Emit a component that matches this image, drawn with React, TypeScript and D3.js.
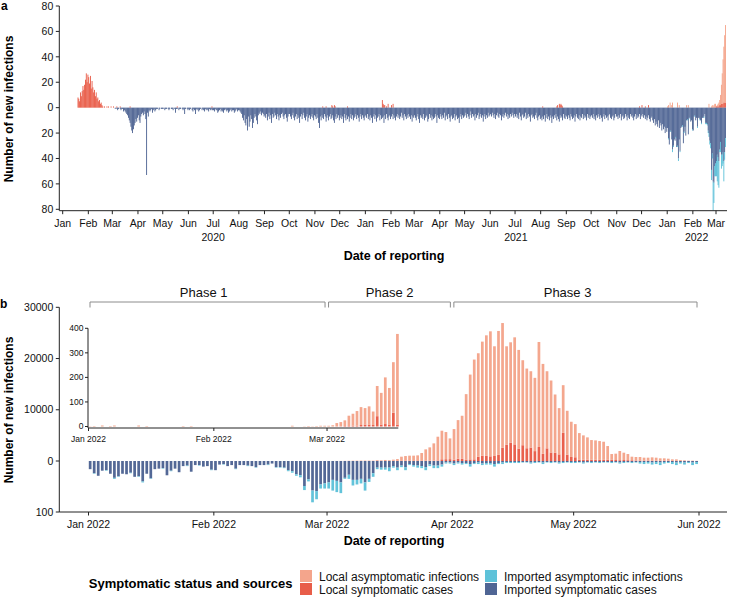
import React from "react";
import * as d3 from "d3";

const FONT = "'Liberation Sans', Arial, Helvetica, sans-serif";
const C_LOCAL_ASYM = "#F39B7F";
const C_LOCAL_SYM = "#E64B35";
const C_IMP_ASYM = "#4DBBD5";
const C_IMP_SYM = "#3C5488";
const AXIS = "#222";

// ---------- panel a: daily counts 2020-2021 ----------
const localEarly2020Start = "2020-01-19";
const localEarly2020 = [
  8, 7, 5, 12, 9, 13, 17, 14, 18, 22, 27, 20, 26,
  24, 19, 25, 15, 21, 16, 12, 14, 9, 12, 7, 8, 5, 6, 3, 4, 2,
  1, 0, 1, 0, 0, 1, 0, 1, 0, 0, 1, 0,
];
const localSporadic: [string, number][] = [
  ["2020-03-02", 1], ["2020-03-06", 1], ["2020-03-10", 1], ["2020-03-22", 1],
  ["2020-05-18", 1], ["2020-06-29", 1], ["2020-11-10", 1], ["2020-11-14", 1],
  ["2020-11-21", 2], ["2020-11-22", 1], ["2020-11-24", 2], ["2020-11-25", 1],
  ["2020-12-10", 1], ["2021-01-21", 6], ["2021-01-22", 3], ["2021-01-23", 2],
  ["2021-01-24", 2], ["2021-01-26", 1], ["2021-01-28", 3], ["2021-02-01", 2],
  ["2021-02-03", 3], ["2021-08-03", 1], ["2021-08-20", 1], ["2021-08-21", 2],
  ["2021-08-23", 3], ["2021-08-24", 2], ["2021-08-25", 3], ["2021-08-26", 2],
  ["2021-08-27", 1], ["2021-11-28", 1], ["2021-12-01", 2], ["2021-12-05", 1],
  ["2021-12-09", 2],
];

const imported2020Start = "2020-03-01";
const imported2020 = [
  [0, 0, 0, 1, 0, 1, 2, 1, 0, 1, 2, 1, 1, 3, 2, 3, 4, 5, 6, 8, 10, 12, 15, 18, 20, 17, 14, 12, 9, 11, 8],
  [6, 10, 12, 7, 5, 4, 6, 3, 5, 9, 53, 4, 7, 2, 3, 2, 1, 4, 2, 1, 3, 2, 1, 1, 0, 2, 1, 0, 1, 1],
  [1, 0, 2, 1, 1, 0, 1, 2, 1, 0, 1, 1, 2, 0, 1, 4, 1, 1, 0, 2, 1, 1, 0, 1, 2, 1, 5, 1, 0, 1, 2],
  [1, 2, 1, 0, 2, 3, 1, 2, 5, 1, 2, 1, 3, 2, 1, 0, 2, 1, 2, 3, 1, 2, 1, 2, 3, 1, 2, 1, 2, 2],
  [2, 3, 1, 2, 2, 4, 3, 2, 1, 3, 2, 3, 4, 2, 1, 2, 3, 2, 4, 3, 2, 1, 3, 2, 2, 4, 3, 2, 1, 3, 2],
  [2, 3, 4, 5, 8, 10, 6, 12, 14, 9, 18, 7, 15, 11, 6, 9, 16, 12, 8, 5, 7, 10, 13, 6, 4, 5, 3, 6, 4, 5, 7],
  [6, 8, 5, 10, 7, 4, 9, 6, 12, 5, 8, 7, 4, 6, 9, 5, 7, 10, 6, 8, 5, 4, 7, 9, 6, 5, 8, 11, 7, 5],
  [5, 7, 9, 6, 4, 8, 10, 7, 5, 9, 6, 8, 12, 7, 5, 9, 6, 4, 8, 10, 7, 5, 11, 8, 6, 9, 7, 5, 8, 10, 6],
  [7, 9, 5, 8, 12, 16, 7, 10, 6, 8, 9, 5, 7, 11, 8, 6, 10, 7, 5, 9, 8, 6, 10, 12, 7, 9, 5, 8, 6, 10],
  [8, 6, 9, 7, 12, 5, 8, 10, 6, 9, 7, 11, 8, 5, 9, 6, 10, 8, 7, 5, 9, 6, 8, 11, 7, 5, 9, 6, 8, 10, 7],
];

const imported2021Start = "2021-01-01";
const imported2021 = [
  [6, 8, 5, 9, 7, 10, 6, 8, 12, 7, 5, 9, 6, 11, 8, 7, 5, 10, 6, 9, 8, 7, 12, 6, 9, 5, 8, 10, 7, 6, 9],
  [7, 5, 9, 6, 8, 10, 7, 5, 8, 6, 9, 7, 4, 8, 6, 10, 5, 7, 9, 6, 8, 5, 7, 9, 6, 11, 7, 8],
  [6, 8, 10, 7, 5, 9, 12, 6, 8, 7, 9, 5, 10, 8, 6, 7, 11, 9, 5, 8, 6, 10, 7, 9, 8, 5, 7, 12, 6, 8, 9],
  [5, 7, 9, 6, 8, 4, 10, 7, 6, 9, 5, 8, 11, 7, 6, 9, 8, 5, 10, 7, 6, 9, 8, 12, 7, 5, 9, 6, 8, 7],
  [6, 4, 8, 5, 7, 9, 6, 3, 8, 5, 7, 6, 10, 5, 8, 6, 4, 9, 7, 5, 8, 6, 11, 7, 5, 9, 6, 8, 4, 7, 6],
  [5, 7, 4, 6, 8, 5, 9, 6, 4, 7, 8, 5, 6, 10, 7, 5, 8, 6, 4, 7, 5, 9, 6, 8, 5, 7, 4, 6, 8, 5],
  [7, 5, 8, 6, 9, 4, 7, 10, 6, 5, 8, 7, 4, 9, 6, 8, 5, 7, 11, 6, 5, 8, 7, 9, 6, 4, 8, 10, 7, 6, 9],
  [8, 10, 7, 9, 6, 11, 8, 5, 9, 7, 10, 6, 8, 12, 7, 9, 6, 8, 5, 10, 7, 9, 11, 6, 8, 7, 10, 5, 8, 9, 6],
  [7, 9, 6, 8, 10, 5, 7, 9, 8, 6, 11, 7, 5, 8, 9, 6, 10, 7, 8, 5, 9, 6, 8, 7, 10, 5, 8, 6, 9, 7],
  [6, 8, 5, 9, 7, 10, 6, 8, 5, 7, 9, 6, 8, 11, 7, 5, 9, 6, 8, 7, 10, 6, 5, 8, 9, 7, 6, 10, 8, 5, 7],
  [7, 9, 6, 8, 5, 10, 7, 6, 9, 8, 5, 7, 10, 6, 8, 9, 5, 7, 6, 8, 10, 7, 5, 9, 6, 8, 7, 5, 9, 6],
  [7, 5, 8, 6, 9, 7, 10, 8, 6, 9, 11, 8, 7, 10, 12, 9, 14, 11, 13, 15, 10, 16, 12, 14, 18, 13, 17, 15, 20, 16, 19],
];

// panel a, local infections 1-12 March 2022
const localAsymMar2022A = [0, 1, 2, 3, 4, 8, 15, 24, 35, 44, 53, 61];
const localSymMar2022A = [1, 1, 1, 1, 2, 2, 3, 3, 3, 4, 4, 4];

// ---------- panel b: daily counts Jan-May 2022 ----------
const localAsym2022 = [
  [1, 2, 0, 4, 0, 2, 4, 0, 0, 0, 0, 0, 4, 0, 2, 0, 0, 0, 0, 0, 0, 0, 0, 2, 0, 2, 0, 0, 0, 0, 0],
  [0, 0, 0, 0, 0, 0, 0, 0, 0, 0, 0, 0, 0, 0, 0, 0, 0, 0, 0, 3, 0, 0, 1, 2, 1, 2, 3, 3],
  [3, 5, 13, 17, 23, 42, 49, 60, 73, 67, 74, 55, 123, 129, 190, 149, 206, 369,
    820, 945, 1010, 1035, 1095, 1530, 2230, 2615, 3390, 4640, 5580, 5300, 4050],
  [5970, 7540, 8410, 12780, 16560, 19480, 20210, 22290, 23530, 24400, 21400, 24190, 24360, 19190, 19580,
    20900, 19260, 16590, 15550, 14890, 14300, 20490, 17550, 15050, 14050, 11370, 9030, 9310, 8550, 6870],
  [6470, 5180, 4740, 4350, 3840, 3770, 3670, 3530, 2700, 1130, 1230, 1790, 1430, 1200, 700, 680,
    690, 570, 570, 650, 600, 480, 470, 410, 290, 300, 170, 120, 55, 60, 25],
];
const localSym2022 = [
  [0, 0, 0, 0, 0, 0, 0, 0, 0, 0, 0, 0, 0, 0, 0, 0, 0, 0, 0, 0, 0, 0, 0, 0, 0, 0, 0, 0, 0, 0, 0],
  [0, 0, 0, 0, 0, 0, 0, 0, 0, 0, 0, 0, 0, 0, 0, 0, 0, 0, 0, 0, 0, 0, 0, 0, 0, 0, 0, 0],
  [0, 0, 1, 1, 2, 2, 3, 3, 6, 8, 8, 6, 42, 8, 10, 8, 56, 8,
    20, 25, 30, 5, 5, 30, 40, 45, 50, 100, 330, 350, 360],
  [260, 440, 420, 270, 310, 320, 820, 1010, 1000, 910, 990, 1190, 2570, 3200, 3590,
    3240, 2420, 3080, 2490, 2630, 1930, 2740, 1400, 2470, 1660, 1610, 1290, 5490, 1250, 790],
  [730, 270, 260, 260, 250, 250, 220, 230, 220, 230, 200, 160, 190, 160, 140, 100,
    90, 80, 80, 60, 50, 40, 50, 40, 30, 20, 20, 10, 10, 5, 5],
];
const importedSym2022 = [
  [16, 24, 29, 19, 18, 25, 33, 30, 25, 26, 23, 31, 30, 40, 25, 34, 16, 15, 14, 28, 19, 15, 22, 10, 9, 21, 8, 8, 11, 10, 17],
  [18, 7, 6, 10, 8, 15, 8, 8, 9, 10, 12, 8, 8, 7, 5, 12, 12, 13, 18, 20, 26, 28, 49, 36, 58, 59, 46, 44],
  [42, 37, 39, 42, 33, 27, 37, 37, 35, 42, 35, 24, 13, 13, 13, 13, 10, 13, 9, 12, 6, 8, 9, 10, 12, 7, 9, 9, 7, 3, 3],
  [5, 3, 4, 4, 6, 4, 3, 5, 4, 4, 6, 4, 3, 2, 2, 2, 2, 2, 2, 3, 2, 2, 3, 2, 2, 2, 3, 2, 2, 2],
  [2, 2, 3, 2, 2, 2, 2, 2, 2, 2, 2, 3, 2, 2, 2, 2, 2, 2, 2, 3, 2, 3, 2, 2, 2, 3, 2, 3, 2, 3, 2],
];
const importedAsym2022 = [
  [0, 1, 0, 0, 1, 0, 2, 1, 0, 0, 1, 0, 1, 2, 0, 1, 0, 0, 1, 0, 1, 0, 0, 0, 1, 0, 0, 1, 0, 0, 1],
  [0, 0, 1, 0, 0, 1, 0, 0, 1, 0, 1, 0, 0, 1, 0, 1, 1, 1, 2, 3, 3, 4, 8, 4, 23, 16, 8, 10],
  [12, 21, 22, 21, 2, 8, 11, 9, 9, 16, 6, 7, 3, 4, 4, 7, 3, 5, 3, 6, 2, 3, 4, 4, 6, 3, 5, 5, 4, 2, 2],
  [3, 2, 3, 2, 5, 2, 3, 3, 3, 3, 5, 2, 3, 2, 2, 2, 2, 1, 1, 2, 2, 1, 3, 1, 2, 1, 2, 2, 1, 2],
  [2, 1, 2, 1, 2, 1, 2, 1, 1, 2, 1, 2, 2, 1, 2, 1, 3, 4, 3, 4, 4, 5, 3, 2, 4, 5, 3, 4, 2, 5, 4],
];

const phases = [
  { label: "Phase 1", start: "2022-01-01", end: "2022-03-01", labelAt: "2022-01-29" },
  { label: "Phase 2", start: "2022-03-01", end: "2022-04-01", labelAt: "2022-03-16" },
  { label: "Phase 3", start: "2022-04-01", end: "2022-06-01", labelAt: "2022-04-29" },
];

const legendItems = [
  { label: "Local asymptomatic infections", color: C_LOCAL_ASYM, col: 0, row: 0 },
  { label: "Local symptomatic cases", color: C_LOCAL_SYM, col: 0, row: 1 },
  { label: "Imported asymptomatic infections", color: C_IMP_ASYM, col: 1, row: 0 },
  { label: "Imported symptomatic cases", color: C_IMP_SYM, col: 1, row: 1 },
];

const DAY = 864e5;
const utc = (s: string) => new Date(s + "T00:00:00Z");

// ---------- assemble series ----------
const bLocalAsym = localAsym2022.flat();
const bLocalSym = localSym2022.flat();
const bImpSym = importedSym2022.flat();
const bImpAsym = importedAsym2022.flat();
const bStart = utc("2022-01-01");
const bDays = bLocalAsym.map((_, i) => new Date(+bStart + i * DAY));

const aStart = utc("2020-01-01");
const aLast = utc("2022-03-12");
const nA = Math.round((+aLast - +aStart) / DAY) + 1;
const idxA = (s: string) => Math.round((+utc(s) - +aStart) / DAY);
const aLocalSym = new Array(nA).fill(0);
const aLocalAsym = new Array(nA).fill(0);
const aImpSym = new Array(nA).fill(0);
const aImpAsym = new Array(nA).fill(0);
localEarly2020.forEach((v, i) => (aLocalSym[idxA(localEarly2020Start) + i] = v));
localSporadic.forEach(([d, v]) => (aLocalSym[idxA(d)] = v));
imported2020.flat().forEach((v, i) => (aImpSym[idxA(imported2020Start) + i] = v));
imported2021.flat().forEach((v, i) => (aImpSym[idxA(imported2021Start) + i] = v));
const off2022 = idxA("2022-01-01");
for (let i = 0; off2022 + i < nA; i++) {
  aImpSym[off2022 + i] = bImpSym[i];
  aImpAsym[off2022 + i] = bImpAsym[i];
  if (i < 59) {
    aLocalSym[off2022 + i] = bLocalSym[i];
    aLocalAsym[off2022 + i] = bLocalAsym[i];
  } else {
    aLocalSym[off2022 + i] = localSymMar2022A[i - 59];
    aLocalAsym[off2022 + i] = localAsymMar2022A[i - 59];
  }
}

export default function App() {
  // panel a scales
  const xA = d3.scaleUtc().domain([utc("2020-01-01"), utc("2022-03-01")]).range([62.7, 716]);
  const yA = d3.scaleLinear().domain([-80, 80]).range([209.3, 6]);
  const axA = { left: 59.3, right: 727, bottom: 210.7 };
  const monthsA = d3.utcMonth.range(utc("2020-01-01"), utc("2022-03-02"));
  const yearsA = [
    { label: "2020", x: xA(utc("2020-07-01")) },
    { label: "2021", x: xA(utc("2021-07-02")) },
    { label: "2022", x: (xA(utc("2022-01-01")) + xA(utc("2022-03-13"))) / 2 },
  ];

  // panel b scales
  const xB = d3.scaleUtc().domain([utc("2022-01-01"), utc("2022-06-01")]).range([88.5, 699]);
  const yPos = d3.scaleLinear().domain([0, 30000]).range([461, 307.3]);
  const yNeg = d3.scaleLinear().domain([0, 100]).range([461, 512]);
  const yIn = d3.scaleLinear().domain([0, 400]).range([426.5, 328.3]);
  const axB = { left: 59.3, right: 727, bottom: 512 };
  const monthsB = d3.utcMonth.range(utc("2022-01-01"), utc("2022-06-02"));
  const insetEnd = utc("2022-03-19");
  const inset = { left: 88, right: xB(insetEnd) - 1.5, bottom: 428 };
  const bw = 2.7;
  const fmtB = d3.utcFormat("%b %Y");

  const aBars: JSX.Element[] = [];
  for (let i = 0; i < nA; i++) {
    const t = new Date(+aStart + i * DAY);
    const x0 = xA(t);
    const w = xA(new Date(+t + DAY)) - x0;
    const ls = aLocalSym[i], la = aLocalAsym[i], is = aImpSym[i], ia = aImpAsym[i];
    if (ls > 0) aBars.push(<rect key={`ls${i}`} x={x0} width={w} y={yA(ls)} height={yA(0) - yA(ls)} fill={C_LOCAL_SYM} />);
    if (la > 0) aBars.push(<rect key={`la${i}`} x={x0} width={w} y={yA(ls + la)} height={yA(ls) - yA(ls + la)} fill={C_LOCAL_ASYM} />);
    if (is > 0) aBars.push(<rect key={`is${i}`} x={x0} width={w} y={yA(0)} height={yA(-is) - yA(0)} fill={C_IMP_SYM} />);
    if (ia > 0) aBars.push(<rect key={`ia${i}`} x={x0} width={w} y={yA(-is)} height={yA(-is - ia) - yA(-is)} fill={C_IMP_ASYM} />);
  }

  return (
    <svg width={729} height={604} style={{ position: "absolute", left: 0, top: 0 }} fontFamily={FONT}>
      <rect width={729} height={604} fill="#fff" />

      {/* ---------------- panel a ---------------- */}
      <text x={1} y={9.5} fontSize={12} fontWeight="bold">a</text>
      <g>{aBars}</g>
      <line x1={axA.left} x2={axA.left} y1={yA(80)} y2={axA.bottom} stroke={AXIS} />
      {d3.range(-80, 81, 20).map((v) => (
        <g key={`ya${v}`}>
          <line x1={axA.left - 3.5} x2={axA.left} y1={yA(v)} y2={yA(v)} stroke={AXIS} />
          <text x={axA.left - 6} y={yA(v)} dy="0.35em" textAnchor="end" fontSize={10.5} fill="#111">{Math.abs(v)}</text>
        </g>
      ))}
      <line x1={axA.left} x2={axA.right} y1={axA.bottom} y2={axA.bottom} stroke={AXIS} />
      {monthsA.map((m) => (
        <g key={`ma${+m}`}>
          <line x1={xA(m)} x2={xA(m)} y1={axA.bottom} y2={axA.bottom + 3.5} stroke={AXIS} />
          <text x={xA(m)} y={226.5} textAnchor="middle" fontSize={10.5} fill="#111">{d3.utcFormat("%b")(m)}</text>
        </g>
      ))}
      {yearsA.map((y) => (
        <text key={y.label} x={y.x} y={241} textAnchor="middle" fontSize={10.5} fill="#111">{y.label}</text>
      ))}
      <text x={394} y={259.5} textAnchor="middle" fontSize={12.5} fontWeight="bold">Date of reporting</text>
      <text transform="translate(13,109) rotate(-90)" textAnchor="middle" fontSize={12} fontWeight="bold">Number of new infections</text>

      {/* ---------------- panel b ---------------- */}
      <text x={0} y={307.5} fontSize={12} fontWeight="bold">b</text>

      {phases.map((p) => {
        const x0 = xB(utc(p.start)) + 1.5;
        const x1 = xB(utc(p.end)) - 2;
        return (
          <g key={p.label}>
            <path d={`M${x0},307.5V302H${x1}V307.5`} fill="none" stroke="#8c8c8c" strokeWidth={1} />
            <text x={xB(utc(p.labelAt)) + 2} y={296.5} textAnchor="middle" fontSize={13} fill="#111">{p.label}</text>
          </g>
        );
      })}

      <g opacity={0.88}>
        {bDays.map((d, i) => {
          const x = xB(d) + 0.3;
          const ls = bLocalSym[i], la = bLocalAsym[i], is = bImpSym[i], ia = bImpAsym[i];
          return (
            <g key={`b${i}`}>
              <rect x={x} width={bw} y={yPos(ls)} height={yPos(0) - yPos(ls)} fill={C_LOCAL_SYM} />
              <rect x={x} width={bw} y={yPos(ls + la)} height={yPos(ls) - yPos(ls + la)} fill={C_LOCAL_ASYM} />
              <rect x={x} width={bw} y={yNeg(0)} height={yNeg(is) - yNeg(0)} fill={C_IMP_SYM} />
              <rect x={x} width={bw} y={yNeg(is)} height={yNeg(is + ia) - yNeg(is)} fill={C_IMP_ASYM} />
            </g>
          );
        })}
      </g>

      <line x1={axB.left} x2={axB.left} y1={yPos(30000)} y2={axB.bottom} stroke={AXIS} />
      {[30000, 20000, 10000, 0].map((v) => (
        <g key={`yb${v}`}>
          <line x1={axB.left - 3.5} x2={axB.left} y1={yPos(v)} y2={yPos(v)} stroke={AXIS} />
          <text x={axB.left - 6} y={yPos(v)} dy="0.35em" textAnchor="end" fontSize={10.5} fill="#111">{v}</text>
        </g>
      ))}
      <line x1={axB.left - 3.5} x2={axB.left} y1={yNeg(100)} y2={yNeg(100)} stroke={AXIS} />
      <text x={axB.left - 6} y={yNeg(100)} dy="0.35em" textAnchor="end" fontSize={10.5} fill="#111">100</text>
      <line x1={axB.left} x2={axB.right} y1={axB.bottom} y2={axB.bottom} stroke={AXIS} />
      {monthsB.map((m) => (
        <g key={`mb${+m}`}>
          <line x1={xB(m)} x2={xB(m)} y1={axB.bottom} y2={axB.bottom + 3.5} stroke={AXIS} />
          <text x={xB(m)} y={528} textAnchor="middle" fontSize={10.5} fill="#111">{fmtB(m)}</text>
        </g>
      ))}
      <text x={394} y={544.5} textAnchor="middle" fontSize={12.5} fontWeight="bold">Date of reporting</text>
      <text transform="translate(13,410) rotate(-90)" textAnchor="middle" fontSize={12} fontWeight="bold">Number of new infections</text>

      {/* inset */}
      <g opacity={0.88}>
        {bDays.filter((d) => d < insetEnd).map((d, i) => {
          const x = xB(d) + 0.3;
          const ls = bLocalSym[i], la = bLocalAsym[i];
          return (
            <g key={`in${i}`}>
              <rect x={x} width={bw} y={yIn(ls)} height={yIn(0) - yIn(ls)} fill={C_LOCAL_SYM} />
              <rect x={x} width={bw} y={yIn(ls + la)} height={yIn(ls) - yIn(ls + la)} fill={C_LOCAL_ASYM} />
            </g>
          );
        })}
      </g>
      <line x1={inset.left} x2={inset.left} y1={yIn(400)} y2={inset.bottom} stroke={AXIS} />
      {d3.range(0, 401, 100).map((v) => (
        <g key={`yi${v}`}>
          <line x1={inset.left - 3} x2={inset.left} y1={yIn(v)} y2={yIn(v)} stroke={AXIS} />
          <text x={inset.left - 4.5} y={yIn(v)} dy="0.35em" textAnchor="end" fontSize={8.5} fill="#111">{v}</text>
        </g>
      ))}
      <line x1={inset.left} x2={inset.right} y1={inset.bottom} y2={inset.bottom} stroke={AXIS} />
      {d3.utcMonth.range(utc("2022-01-01"), insetEnd).map((m) => (
        <g key={`mi${+m}`}>
          <line x1={xB(m)} x2={xB(m)} y1={inset.bottom} y2={inset.bottom + 3} stroke={AXIS} />
          <text x={xB(m)} y={442} textAnchor="middle" fontSize={8.5} fill="#111">{fmtB(m)}</text>
        </g>
      ))}

      {/* legend */}
      <text x={292.5} y={588} textAnchor="end" fontSize={13} fontWeight="bold">Symptomatic status and sources</text>
      {legendItems.map((it) => {
        const sx = it.col === 0 ? 300 : 485;
        const sy = 570 + it.row * 13;
        return (
          <g key={it.label}>
            <rect x={sx} y={sy} width={12} height={12} fill={it.color} opacity={0.9} />
            <text x={sx + 19} y={sy + 10.5} fontSize={12} fill="#111">{it.label}</text>
          </g>
        );
      })}
    </svg>
  );
}
